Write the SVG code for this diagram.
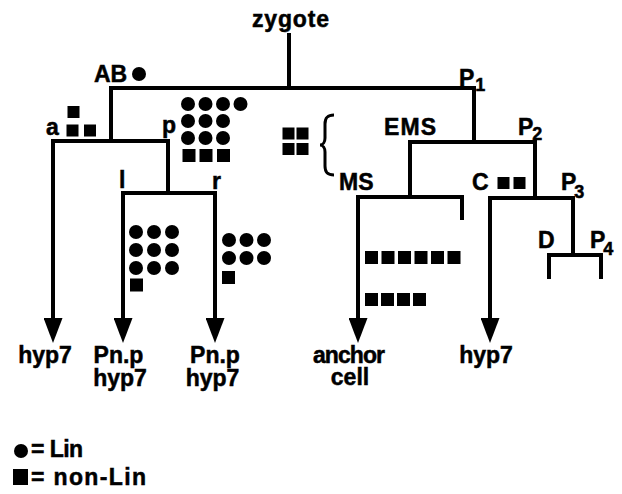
<svg xmlns="http://www.w3.org/2000/svg" width="622" height="494" viewBox="0 0 622 494">
<style>
text{font-family:"Liberation Sans",Arial,sans-serif;font-weight:bold;font-size:23px;fill:#000;stroke:#000;stroke-width:0.5}
.sub{font-size:18px}
.mid{text-anchor:middle}
.ln{fill:none;stroke:#000;stroke-width:4}
.arr{marker-end:url(#ah)}
.d{fill:#000}
</style>
<defs>
<marker id="ah" viewBox="0 0 25 19" refX="0" refY="9.5" markerWidth="25" markerHeight="19" markerUnits="userSpaceOnUse" orient="auto">
<path d="M0 0 L25 9.5 L0 19 Z" fill="#000"/>
</marker>
<circle id="dot" r="7" class="d"/>
<rect id="sq" x="-6.5" y="-6.5" width="13" height="13" class="d"/>
<rect id="sqs" x="-6" y="-6" width="12" height="12" class="d"/>
</defs>
<rect width="622" height="494" fill="#fff"/>

<g id="connectors">
<path class="ln" d="M289 33 V88"/>
<path class="ln" d="M289 88 H111 V141"/>
<path class="ln" d="M289 88 H474 V142"/>
<path class="ln arr" d="M111 141 H53 V318"/>
<path class="ln" d="M111 141 H168 V193"/>
<path class="ln arr" d="M168 193 H123 V318"/>
<path class="ln arr" d="M168 193 H215 V318"/>
<path class="ln" d="M474 142 H410 V197"/>
<path class="ln" d="M474 142 H535 V198"/>
<path class="ln arr" d="M410 197 H358 V318"/>
<path class="ln" d="M410 197 H462 V220"/>
<path class="ln arr" d="M535 198 H490 V318"/>
<path class="ln" d="M535 198 H573 V255"/>
<path class="ln" d="M573 255 H549 V279"/>
<path class="ln" d="M573 255 H601 V279"/>
</g>

<g id="zygote"><text x="290.5" y="27" class="mid" textLength="77">zygote</text></g>
<g id="AB"><text x="94" y="82">AB</text><use href="#dot" x="139" y="74"/></g>
<g id="P1"><text x="459" y="86">P<tspan class="sub" dx="1" dy="5">1</tspan></text></g>
<g id="a"><text x="46" y="135">a</text>
<use href="#sqs" x="73.5" y="112"/><use href="#sqs" x="72.5" y="130.5"/><use href="#sqs" x="90" y="130.5"/></g>
<g id="p"><text x="162" y="133">p</text>
<use href="#dot" x="188" y="104"/><use href="#dot" x="205.5" y="104"/><use href="#dot" x="223" y="104"/><use href="#dot" x="240.5" y="104"/>
<use href="#dot" x="188" y="121"/><use href="#dot" x="205.5" y="121"/><use href="#dot" x="223" y="121"/>
<use href="#dot" x="188" y="138"/><use href="#dot" x="205.5" y="138"/><use href="#dot" x="223" y="138"/>
<use href="#sq" x="189" y="155.5"/><use href="#sq" x="206" y="155.5"/><use href="#sq" x="223.5" y="155.5"/></g>
<g id="MSgroup">
<use href="#sqs" x="288.5" y="133.5"/><use href="#sqs" x="302.5" y="133.5"/><use href="#sqs" x="288.5" y="149"/><use href="#sqs" x="302.5" y="149"/>
<path d="M334 115 C327 115 325 118 325 124 V138 C325 142 323 145 320 145 C323 145 325 148 325 152 V166 C325 172 327 175 334 175" fill="none" stroke="#000" stroke-width="3"/>
</g>
<g id="EMS"><text x="384" y="135" textLength="52">EMS</text></g>
<g id="P2"><text x="518" y="135">P<tspan class="sub" dx="-1" dy="5">2</tspan></text></g>
<g id="l"><text x="119" y="188">l</text></g>
<g id="r"><text x="212" y="189">r</text></g>
<g id="MS"><text x="339" y="190">MS</text>
<use href="#sq" x="371.5" y="257.5"/><use href="#sq" x="388" y="257.5"/><use href="#sq" x="404.5" y="257.5"/><use href="#sq" x="421" y="257.5"/><use href="#sq" x="437.5" y="257.5"/><use href="#sq" x="454" y="257.5"/>
<use href="#sq" x="371.5" y="299.5"/><use href="#sq" x="387.5" y="299.5"/><use href="#sq" x="403.5" y="299.5"/><use href="#sq" x="419.5" y="299.5"/></g>
<g id="C"><text x="472" y="190">C</text><use href="#sqs" x="503.5" y="183"/><use href="#sqs" x="519.5" y="183"/></g>
<g id="P3"><text x="561" y="190">P<tspan class="sub" dx="-2" dy="8">3</tspan></text></g>
<g id="D"><text x="538" y="248">D</text></g>
<g id="P4"><text x="590" y="248">P<tspan class="sub" dx="-2" dy="7">4</tspan></text></g>
<g id="lgrid">
<use href="#dot" x="136" y="232"/><use href="#dot" x="154" y="232"/><use href="#dot" x="172" y="232"/>
<use href="#dot" x="136" y="250"/><use href="#dot" x="154" y="250"/><use href="#dot" x="172" y="250"/>
<use href="#dot" x="136" y="268"/><use href="#dot" x="154" y="268"/><use href="#dot" x="172" y="268"/>
<use href="#sq" x="136.5" y="285"/></g>
<g id="rgrid">
<use href="#dot" x="229" y="240"/><use href="#dot" x="246.5" y="240"/><use href="#dot" x="264" y="240"/>
<use href="#dot" x="229" y="258"/><use href="#dot" x="246.5" y="258"/><use href="#dot" x="264" y="258"/>
<use href="#sq" x="228.5" y="277.5"/></g>

<g id="out1"><text x="45" y="363" class="mid">hyp7</text></g>
<g id="out2"><text x="118.5" y="363" class="mid">Pn.p</text><text x="120" y="386" class="mid">hyp7</text></g>
<g id="out3"><text x="215" y="363" class="mid">Pn.p</text><text x="212.5" y="386" class="mid">hyp7</text></g>
<g id="out4"><text x="349" y="363" class="mid" textLength="72">anchor</text><text x="350" y="385" class="mid">cell</text></g>
<g id="out5"><text x="486" y="363" class="mid">hyp7</text></g>

<g id="legend">
<use href="#dot" x="21" y="451"/><text x="31" y="457" textLength="52">= Lin</text>
<rect x="13" y="469" width="15" height="16" class="d"/><text x="31" y="485" textLength="115">= non-Lin</text>
</g>
</svg>
